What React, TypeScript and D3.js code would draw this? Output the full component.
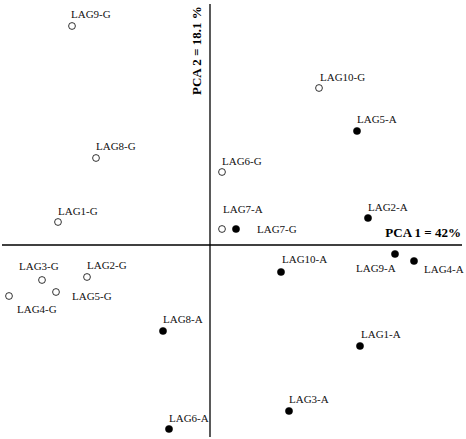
import React from "react";
import * as d3 from "d3";

const W = 466;
const H = 439;

// PCA scores (arbitrary units)
const names = [
  "LAG9-G", "LAG8-G", "LAG1-G", "LAG6-G", "LAG7-G", "LAG7-A", "LAG10-G", "LAG5-A", "LAG2-A",
  "LAG3-G", "LAG2-G", "LAG5-G", "LAG4-G", "LAG8-A", "LAG6-A", "LAG10-A", "LAG9-A", "LAG4-A",
  "LAG1-A", "LAG3-A",
];
const pc1 = [
  -2.76, -2.28, -3.04, 0.24, 0.24, 0.52, 2.18, 2.94, 3.16,
  -3.36, -2.46, -3.08, -4.02, -0.94, -0.82, 1.42, 3.70, 4.08,
  3.0, 1.58,
];
const pc2 = [
  4.38, 1.74, 0.46, 1.46, 0.32, 0.32, 3.14, 2.28, 0.54,
  -0.70, -0.64, -0.94, -1.02, -1.72, -3.68, -0.54, -0.18, -0.32,
  -2.02, -3.32,
];
const xLabel = "PCA 1 = 42%";
const yLabel = "PCA 2 = 18.1 %";

// label placement (layout only)
const labelOffset: Record<string, [number, number]> = {
  "LAG9-G": [-1, -8],
  "LAG8-G": [0, -8],
  "LAG1-G": [0, -7],
  "LAG6-G": [0, -7],
  "LAG7-G": [35, 4],
  "LAG7-A": [-13, -16],
  "LAG10-G": [1, -7],
  "LAG5-A": [0, -8],
  "LAG2-A": [0, -7],
  "LAG3-G": [-23, -10],
  "LAG2-G": [0, -8],
  "LAG5-G": [16, 8],
  "LAG4-G": [8, 17],
  "LAG8-A": [0, -8],
  "LAG6-A": [0, -7],
  "LAG10-A": [1, -9],
  "LAG9-A": [-39, 18],
  "LAG4-A": [10, 12],
  "LAG1-A": [1, -8],
  "LAG3-A": [0, -8],
};

export default function App() {
  const x = d3.scaleLinear().domain([-4.16, 5.04]).range([2, 462]);
  const y = d3.scaleLinear().domain([-3.84, 4.82]).range([437, 4]);
  const font = "'Liberation Serif', 'Times New Roman', serif";

  return (
    <div style={{ position: "fixed", left: 0, top: 0, width: W, height: H, background: "#fff" }}>
      <svg width={W} height={H} style={{ display: "block" }}>
        <rect width={W} height={H} fill="#fff" />
        <line x1={x(-4.16)} x2={x(5.04)} y1={y(0)} y2={y(0)} stroke="#000" strokeWidth={1.3} />
        <line x1={x(0)} x2={x(0)} y1={y(-3.84)} y2={y(4.82)} stroke="#000" strokeWidth={1.3} />
        {names.map((n, i) => {
          const filled = n.endsWith("-A");
          const cx = x(pc1[i]);
          const cy = y(pc2[i]);
          const [dx, dy] = labelOffset[n] || [0, -8];
          return (
            <g key={n}>
              <circle
                cx={cx}
                cy={cy}
                r={filled ? 3.6 : 3.4}
                fill={filled ? "#000" : "#fff"}
                stroke="#000"
                strokeWidth={filled ? 0.5 : 0.8}
              />
              <text x={cx + dx} y={cy + dy} fontFamily={font} fontSize={11} fill="#111">
                {n}
              </text>
            </g>
          );
        })}
        <text x={461} y={237} textAnchor="end" fontFamily={font} fontSize={13} fontWeight="bold" fill="#000">
          {xLabel}
        </text>
        <text
          transform={`translate(201,95) rotate(-90)`}
          fontFamily={font}
          fontSize={13}
          fontWeight="bold"
          fill="#000"
        >
          {yLabel}
        </text>
      </svg>
    </div>
  );
}
